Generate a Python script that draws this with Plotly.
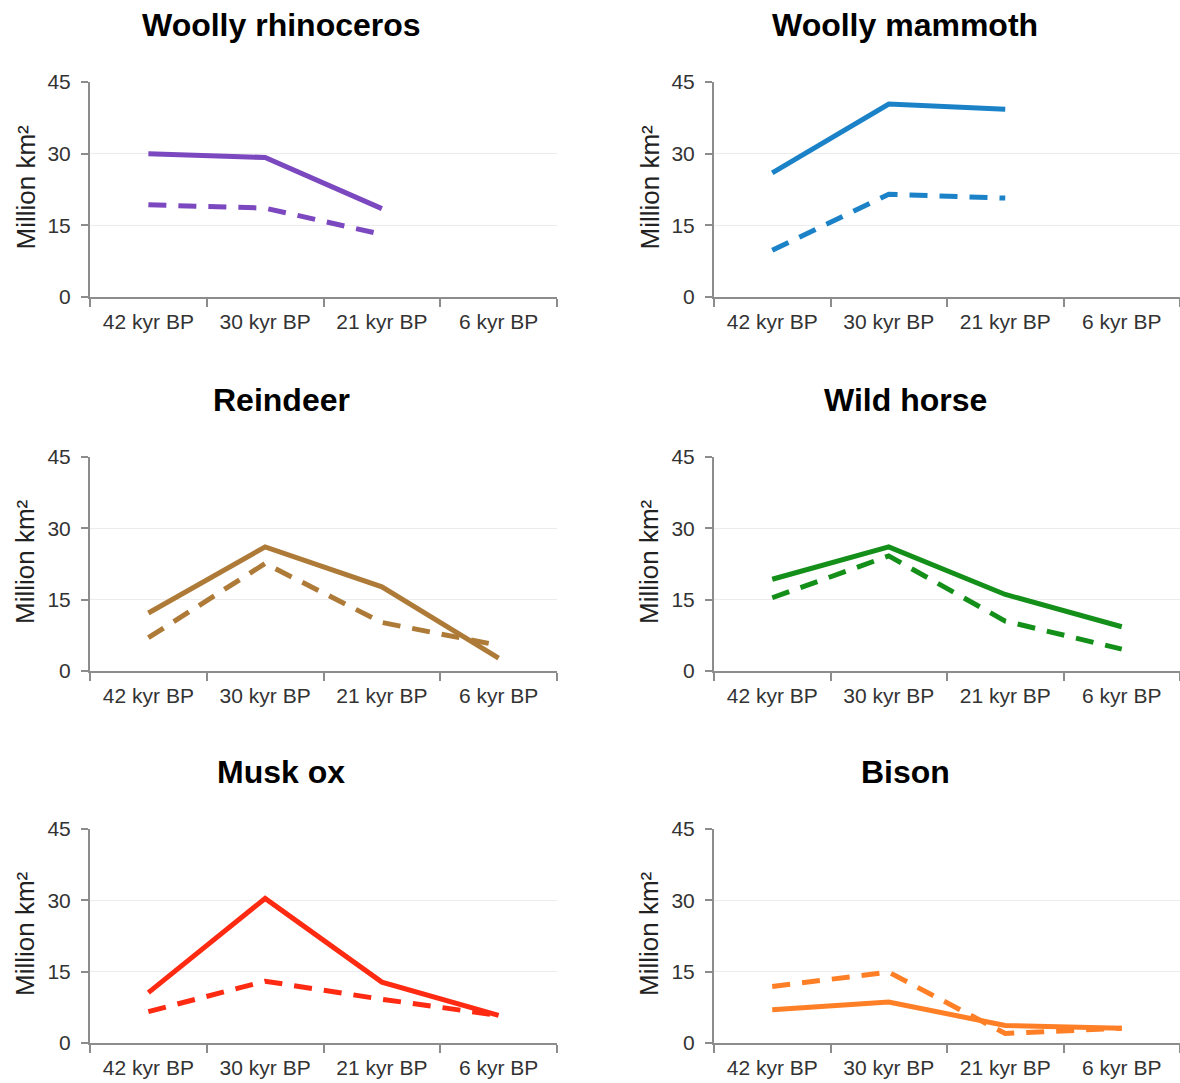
import plotly.graph_objects as go

# Time slices shown on every x axis
periods = ["42 kyr BP", "30 kyr BP", "21 kyr BP", "6 kyr BP"]
y_ticks = [0, 15, 30, 45]

# Panel titles (left to right, top to bottom)
species = ["Woolly rhinoceros", "Woolly mammoth", "Reindeer",
           "Wild horse", "Musk ox", "Bison"]
line_colors = ["#7B48BF", "#1B82C8", "#AE7A38", "#14901A", "#FF2A12", "#FF7F27"]

# Range size, million km² (solid and dashed series per species)
rhino_solid = [30.0, 29.2, 18.5, None]
rhino_dashed = [19.3, 18.6, 13.1, None]
mammoth_solid = [26.0, 40.4, 39.3, None]
mammoth_dashed = [9.8, 21.5, 20.7, None]
reindeer_solid = [12.2, 26.1, 17.7, 2.7]
reindeer_dashed = [7.0, 22.6, 10.2, 5.4]
horse_solid = [19.3, 26.1, 16.1, 9.3]
horse_dashed = [15.4, 24.2, 10.5, 4.6]
muskox_solid = [10.6, 30.4, 12.8, 5.8]
muskox_dashed = [6.6, 13.0, 9.2, 5.8]
bison_solid = [7.0, 8.6, 3.7, 3.1]
bison_dashed = [11.9, 14.9, 2.0, 3.1]

solid_series = [rhino_solid, mammoth_solid, reindeer_solid,
                horse_solid, muskox_solid, bison_solid]
dashed_series = [rhino_dashed, mammoth_dashed, reindeer_dashed,
                 horse_dashed, muskox_dashed, bison_dashed]

W, H = 1180, 1083
FONT = "Liberation Sans, Arial, sans-serif"

# Pixel frames of each plotting area: (left, right, top, bottom)
col_x = [(90, 557), (714, 1181)]
row_y = [(82, 297), (457, 671), (829, 1043)]

fig = go.Figure()

for i, name in enumerate(species):
    r, c = divmod(i, 2)
    x0, x1 = col_x[c]
    yt, yb = row_y[r]
    ax = "" if i == 0 else str(i + 1)
    xa, ya = "x" + ax, "y" + ax

    fig.add_trace(go.Scatter(
        x=periods, y=dashed_series[i], xaxis=xa, yaxis=ya, mode="lines",
        line=dict(color=line_colors[i], width=5, dash="18px,12px"),
        showlegend=False, hoverinfo="skip"))
    fig.add_trace(go.Scatter(
        x=periods, y=solid_series[i], xaxis=xa, yaxis=ya, mode="lines",
        line=dict(color=line_colors[i], width=5),
        showlegend=False, hoverinfo="skip"))

    fig.layout["xaxis" + ax] = dict(
        domain=[x0 / W, min(x1 / W, 1.0)], anchor=ya,
        type="category", categoryorder="array", categoryarray=periods,
        range=[-0.5, 3.5], tickson="boundaries",
        ticks="outside", ticklen=8, tickwidth=2, tickcolor="#8c8c8c",
        showline=True, linecolor="#8c8c8c", linewidth=2,
        showgrid=False, zeroline=False, ticklabelstandoff=5,
        automargin=False,
        tickfont=dict(family=FONT, size=21, color="#333333"),
        fixedrange=True)
    fig.layout["yaxis" + ax] = dict(
        domain=[1 - yb / H, 1 - yt / H], anchor=xa,
        range=[0, 45], tickvals=y_ticks,
        ticks="outside", ticklen=7, tickwidth=2, tickcolor="#8c8c8c",
        showline=True, linecolor="#8c8c8c", linewidth=2,
        showgrid=True, gridcolor="#ececec", gridwidth=1,
        zeroline=False, ticklabelstandoff=6, automargin=False,
        tickfont=dict(family=FONT, size=21, color="#333333"),
        fixedrange=True)

    # Panel title
    fig.add_annotation(
        text="<b>%s</b>" % name, xref="paper", yref="paper",
        x=(x0 + 191) / W, y=1 - (yt - 57) / H,
        xanchor="center", yanchor="middle", showarrow=False,
        font=dict(family=FONT, size=32, color="#000000"))
    # Y axis title
    fig.add_annotation(
        text="Million km²", xref="paper", yref="paper",
        x=(x0 - 65) / W, y=1 - ((yt + yb) / 2 - 2) / H,
        xanchor="center", yanchor="middle", textangle=-90, showarrow=False,
        font=dict(family=FONT, size=26, color="#222222"))

fig.update_layout(
    width=W, height=H,
    margin=dict(l=0, r=0, t=0, b=0, pad=0, autoexpand=False),
    paper_bgcolor="white", plot_bgcolor="white",
    showlegend=False)

fig.write_html("out.html", config={"displayModeBar": False})
